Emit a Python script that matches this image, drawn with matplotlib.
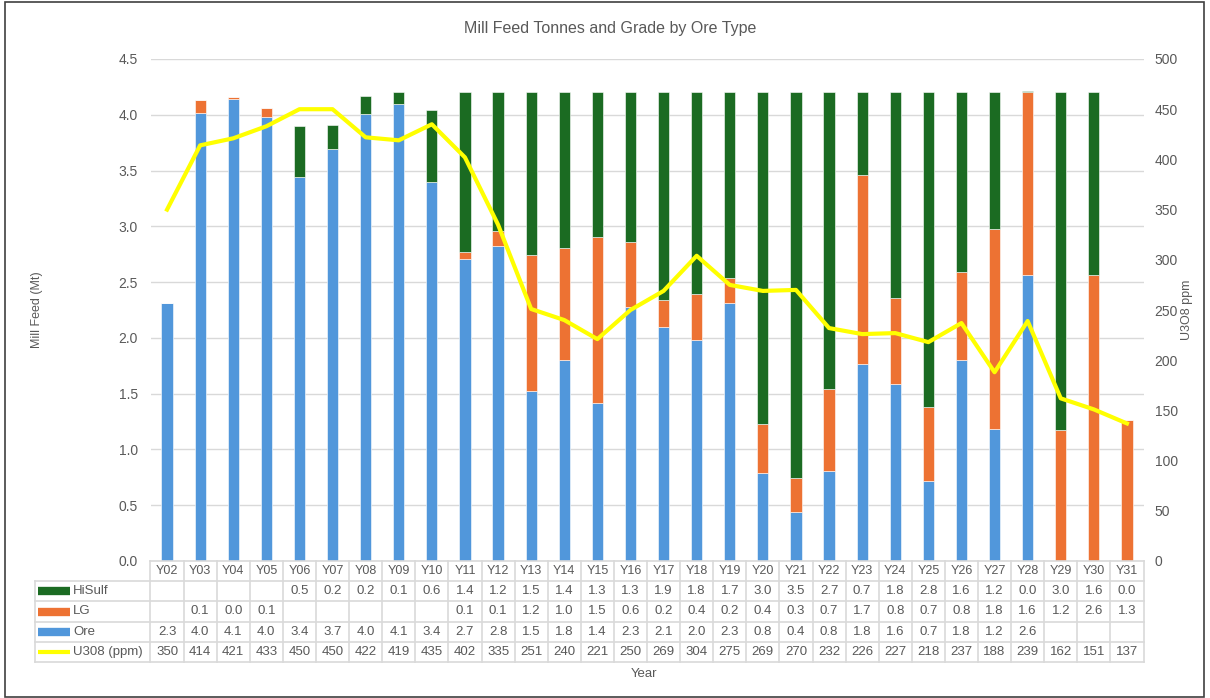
import numpy as np
import matplotlib
matplotlib.use("Agg")
import matplotlib.pyplot as plt
from matplotlib.patches import Rectangle

plt.rcParams["font.family"] = ["Liberation Sans", "DejaVu Sans"]

years = ["Y%02d" % y for y in range(2, 32)]
ore = [2.31, 4.02, 4.14, 3.98, 3.44, 3.69, 4.01, 4.10, 3.40, 2.71, 2.82, 1.52, 1.80, 1.42, 2.28,
       2.10, 1.98, 2.31, 0.79, 0.44, 0.81, 1.77, 1.59, 0.72, 1.80, 1.18, 2.56, None, None, None]
lg = [None, 0.11, 0.02, 0.08, None, None, None, None, None, 0.06, 0.14, 1.22, 1.01, 1.48, 0.58,
      0.24, 0.41, 0.23, 0.44, 0.30, 0.73, 1.69, 0.77, 0.66, 0.79, 1.80, 1.64, 1.17, 2.56, 1.26]
hisulf = [None, None, None, None, 0.46, 0.22, 0.16, 0.10, 0.64, 1.43, 1.24, 1.46, 1.39, 1.30, 1.34,
          1.86, 1.81, 1.66, 2.97, 3.46, 2.66, 0.74, 1.84, 2.82, 1.61, 1.22, 0.01, 3.03, 1.64, 0.0]
u3o8 = [350, 414, 421, 433, 450, 450, 422, 419, 435, 402, 335, 251, 240, 221, 250,
        269, 304, 275, 269, 270, 232, 226, 227, 218, 237, 188, 239, 162, 151, 137]

c_ore = "#5197DB"
c_lg = "#ED7233"
c_hs = "#1B6B22"
c_line = "#FFFF00"
txt = "#595959"
grid_c = "#D9D9D9"

W, H = 1210, 698
fig = plt.figure(figsize=(W / 100, H / 100), dpi=100, facecolor="white")

x0, x1, y0, y1 = 150.5, 1143.5, 561, 59
ax = fig.add_axes([x0 / W, 1 - y0 / H, (x1 - x0) / W, (y0 - y1) / H])
x = np.arange(len(years))
o = np.array([v if v is not None else 0 for v in ore], float)
l = np.array([v if v is not None else 0 for v in lg], float)
h = np.array([v if v is not None else 0 for v in hisulf], float)
bw = 0.34
ax.bar(x, o, bw, color=c_ore, edgecolor="white", linewidth=0.4, zorder=2)
ax.bar(x, l, bw, bottom=o, color=c_lg, edgecolor="white", linewidth=0.4, zorder=2)
ax.bar(x, h, bw, bottom=o + l, color=c_hs, edgecolor="white", linewidth=0.4, zorder=2)
ax.set_xlim(-0.5, len(years) - 0.5)
ax.set_ylim(0, 4.5)
ax.set_yticks(np.arange(0, 4.51, 0.5))
ax.set_yticklabels(["%.1f" % v for v in np.arange(0, 4.51, 0.5)])
ax.set_xticks([])
ax.grid(axis="y", color=grid_c, linewidth=1.0, zorder=0)
ax.set_axisbelow(True)
for s in ax.spines.values():
    s.set_visible(False)
ax.tick_params(axis="y", length=0, labelsize=10, colors=txt, pad=9)

ax2 = ax.twinx()
ax2.plot(x, u3o8, color=c_line, linewidth=3, zorder=3)
ax2.set_ylim(0, 500)
ax2.set_yticks(np.arange(0, 501, 50))
for s in ax2.spines.values():
    s.set_visible(False)
ax2.tick_params(axis="y", length=0, labelsize=10, colors=txt, pad=8)

fig.text(610 / W, 1 - 29 / H, "Mill Feed Tonnes and Grade by Ore Type", ha="center", va="center",
         fontsize=11.5, color=txt)
fig.text(37 / W, 1 - 310 / H, "Mill Feed (Mt)", rotation=90, ha="center", va="center",
         fontsize=9, color=txt)
fig.text(1187 / W, 1 - 310 / H, "U3O8 ppm", rotation=90, ha="center", va="center",
         fontsize=9, color=txt)
fig.text(644 / W, 1 - 674 / H, "Year", ha="center", va="center", fontsize=9.5, color=txt)

# data table
tx0, ty0, ty1 = 35, 662, 561
lab_w = (x0 - tx0) / ((x1 - x0) / len(years))
tab = fig.add_axes([tx0 / W, 1 - ty0 / H, (x1 - tx0) / W, (ty0 - ty1) / H])
tab.set_xlim(-0.5 - lab_w, len(years) - 0.5)
tab.set_ylim(0, 5)
tab.axis("off")
left = -0.5 - lab_w
right = len(years) - 0.5
for yy in range(0, 5):
    tab.plot([left, right], [yy, yy], color=grid_c, lw=1.2, clip_on=False)
tab.plot([-0.5, right], [5, 5], color=grid_c, lw=1.2, clip_on=False)
tab.plot([left, left], [0, 4], color=grid_c, lw=1.2, clip_on=False)
for i in range(len(years) + 1):
    tab.plot([i - 0.5, i - 0.5], [0, 5], color=grid_c, lw=1.2, clip_on=False)

rows = [("HiSulf", hisulf, c_hs, 6, "%.1f"), ("LG", lg, c_lg, 6, "%.1f"),
        ("Ore", ore, c_ore, 6, "%.1f"), ("U308 (ppm)", u3o8, c_line, 3, "%d")]
for i, yr in enumerate(years):
    tab.text(i, 4.5, yr, ha="center", va="center", fontsize=9, color=txt)
for r, (name, vals, col, lw, fmt) in enumerate(rows):
    yc = 3.5 - r
    tab.plot([left + 0.08, left + 1.05], [yc, yc], color=col, lw=lw, solid_capstyle="butt")
    tab.text(left + 1.15, yc, name, ha="left", va="center", fontsize=9.5, color=txt)
    for i, v in enumerate(vals):
        if v is not None:
            tab.text(i, yc, fmt % v, ha="center", va="center", fontsize=9.5, color=txt)

fig.add_artist(Rectangle((5 / W, 1 / H), 1199 / W, 695 / H, transform=fig.transFigure,
                         fill=False, edgecolor="#404040", linewidth=1.2))

fig.savefig("out.png", dpi=100, facecolor="white")
